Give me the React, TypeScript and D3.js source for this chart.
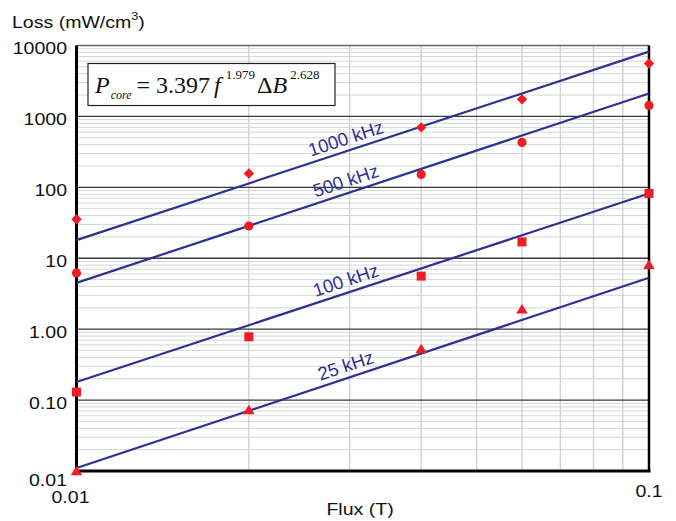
import React from 'react';
import * as d3 from 'd3';

// measured points (flux in T, loss in mW/cm3)
const fluxPoints = [0.01, 0.02, 0.04, 0.06, 0.1];
const loss1000 = [35.5, 157, 700, 1740, 5570];
const loss500 = [6.2, 28.5, 152, 430, 1430];
const loss100 = [0.13, 0.78, 5.6, 17, 82];
const loss25 = [0.0099, 0.072, 0.52, 1.9, 8];

// fitted lines, end values at the edges of the flux range
const fitFlux = [0.01, 0.1];
const fit1000 = [18, 8200];
const fit500 = [4.5, 2100];
const fit100 = [0.18, 82];
const fit25 = [0.011, 5.3];

const seriesNames = ['1000 kHz', '500 kHz', '100 kHz', '25 kHz'];
const labelFlux = 0.03;

const yTicks = [0.01, 0.1, 1, 10, 100, 1000, 10000];
const yTickLabels = ['0.01', '0.10', '1.00', '10', '100', '1000', '10000'];
const xTicks = [0.01, 0.1];
const xTickLabels = ['0.01', '0.1'];

const W = 676;
const H = 521;
const margin = { top: 45.5, right: 27, bottom: 50, left: 76.5 };
const RED = '#ee1c25';
const BLUE = '#2e3192';

const Txt = ({ x, y, anchor = 'start', size = 17, children }: any) => (
  <text
    transform={`translate(${x},${y}) scale(1.15,1)`}
    textAnchor={anchor}
    fontFamily="Arial, 'Liberation Sans', sans-serif"
    fontSize={size}
    fill="#111"
  >
    {children}
  </text>
);

const Marker = ({ kind, cx, cy }: any) => {
  if (kind === 'diamond') {
    const s = 5.2;
    return <path d={`M${cx},${cy - s}L${cx + s},${cy}L${cx},${cy + s}L${cx - s},${cy}Z`} fill={RED} />;
  }
  if (kind === 'circle') return <circle cx={cx} cy={cy} r={4.6} fill={RED} />;
  if (kind === 'square') return <rect x={cx - 4.5} y={cy - 4.5} width={9} height={9} fill={RED} />;
  return <path d={`M${cx},${cy - 5.5}L${cx + 5.8},${cy + 4}L${cx - 5.8},${cy + 4}Z`} fill={RED} />;
};

export default function App() {
  const innerW = W - margin.left - margin.right;
  const innerH = H - margin.top - margin.bottom;

  const x = d3.scaleLog().domain([0.01, 0.1]).range([margin.left, margin.left + innerW]);
  const y = d3.scaleLog().domain([0.01, 10000]).range([margin.top + innerH, margin.top]);

  const series = [
    { name: seriesNames[0], pts: loss1000, fit: fit1000, kind: 'diamond' },
    { name: seriesNames[1], pts: loss500, fit: fit500, kind: 'circle' },
    { name: seriesNames[2], pts: loss100, fit: fit100, kind: 'square' },
    { name: seriesNames[3], pts: loss25, fit: fit25, kind: 'triangle' },
  ];

  // minor gridlines
  const yMinor: number[] = [];
  for (let e = -2; e < 4; e++) for (let m = 2; m <= 9; m++) yMinor.push(m * Math.pow(10, e));
  const xMinor: number[] = [];
  for (let m = 2; m <= 9; m++) xMinor.push(m * 0.01);

  const line = d3
    .line<[number, number]>()
    .x((d) => x(d[0]))
    .y((d) => y(d[1]));

  const x0 = margin.left;
  const x1 = margin.left + innerW;
  const yTop = margin.top;
  const yBot = margin.top + innerH;

  return (
    <svg width={W} height={H} style={{ position: 'absolute', left: 0, top: 0, background: '#fff' }}>
      {/* minor grid */}
      {yMinor.map((v) => (
        <line key={'ym' + v} x1={x0} x2={x1} y1={y(v)} y2={y(v)} stroke="#d6d6d6" strokeWidth={1} />
      ))}
      {xMinor.map((v) => (
        <line key={'xm' + v} x1={x(v)} x2={x(v)} y1={yTop} y2={yBot} stroke="#d2d2d2" strokeWidth={1.4} />
      ))}
      {/* major grid */}
      {yTicks.slice(1, -1).map((v) => (
        <line key={'yM' + v} x1={x0} x2={x1} y1={y(v)} y2={y(v)} stroke="#3a3a3a" strokeWidth={1.3} />
      ))}
      {/* frame */}
      <line x1={x0} x2={x1} y1={yTop} y2={yTop} stroke="#666" strokeWidth={1.5} />
      <line x1={x0} x2={x0} y1={yTop} y2={yBot + 1.5} stroke="#000" strokeWidth={3} />
      <line x1={x0} x2={x1 + 1.5} y1={yBot} y2={yBot} stroke="#000" strokeWidth={3} />
      <line x1={x1} x2={x1} y1={yTop} y2={yBot} stroke="#000" strokeWidth={2.5} />

      {/* equation box */}
      <rect x={88} y={63.5} width={247} height={42} fill="#fff" stroke="#222" strokeWidth={1.2} />
      <text x={95} y={93} fontFamily="'Liberation Serif', 'Times New Roman', serif" fontSize={24} fill="#111">
        <tspan fontStyle="italic">P</tspan>
        <tspan fontSize={12} fontStyle="italic" dx={1} dy={6}>core</tspan>
        <tspan dx={5} dy={-6}>= 3.397</tspan>
        <tspan fontStyle="italic" dx={4}>f</tspan>
        <tspan fontSize={13} dx={5} dy={-14}>1.979</tspan>
        <tspan dx={2} dy={14}>Δ</tspan>
        <tspan fontStyle="italic">B</tspan>
        <tspan fontSize={13} dx={3} dy={-14}>2.628</tspan>
      </text>

      {/* fitted lines and labels */}
      {series.map((s) => {
        const pts: [number, number][] = fitFlux.map((f, i) => [f, s.fit[i]]);
        const ang =
          (Math.atan2(y(s.fit[1]) - y(s.fit[0]), x(fitFlux[1]) - x(fitFlux[0])) * 180) / Math.PI;
        const t = (Math.log10(labelFlux) - Math.log10(fitFlux[0])) / (Math.log10(fitFlux[1]) - Math.log10(fitFlux[0]));
        const lv = Math.pow(10, Math.log10(s.fit[0]) + t * (Math.log10(s.fit[1]) - Math.log10(s.fit[0])));
        return (
          <g key={s.name}>
            <path d={line(pts) || ''} fill="none" stroke={BLUE} strokeWidth={2.2} />
            <text
              transform={`translate(${x(labelFlux)},${y(lv)}) rotate(${ang})`}
              y={-6}
              textAnchor="middle"
              fontFamily="Arial, 'Liberation Sans', sans-serif"
              fontSize={18.5}
              fill={BLUE}
            >
              {s.name}
            </text>
          </g>
        );
      })}

      {/* data markers */}
      {series.map((s) =>
        s.pts.map((v, i) => (
          <Marker key={s.name + i} kind={s.kind} cx={x(fluxPoints[i])} cy={y(v)} />
        ))
      )}

      {/* axis labels */}
      {yTicks.map((v, i) => (
        <Txt key={'yl' + v} x={67} y={y(v) + (i === 0 ? 15 : 8.5)} anchor="end">
          {yTickLabels[i]}
        </Txt>
      ))}
      {xTicks.map((v, i) => (
        <Txt key={'xl' + v} x={x(v) + (i === 0 ? -6 : 0)} y={i === 0 ? 503 : 497} anchor="middle">
          {xTickLabels[i]}
        </Txt>
      ))}
      <Txt x={12} y={28}>
        Loss (mW/cm<tspan dy={-8} fontSize={11}>3</tspan>
        <tspan dy={8}>)</tspan>
      </Txt>
      <Txt x={360} y={515} anchor="middle">
        Flux (T)
      </Txt>
    </svg>
  );
}
